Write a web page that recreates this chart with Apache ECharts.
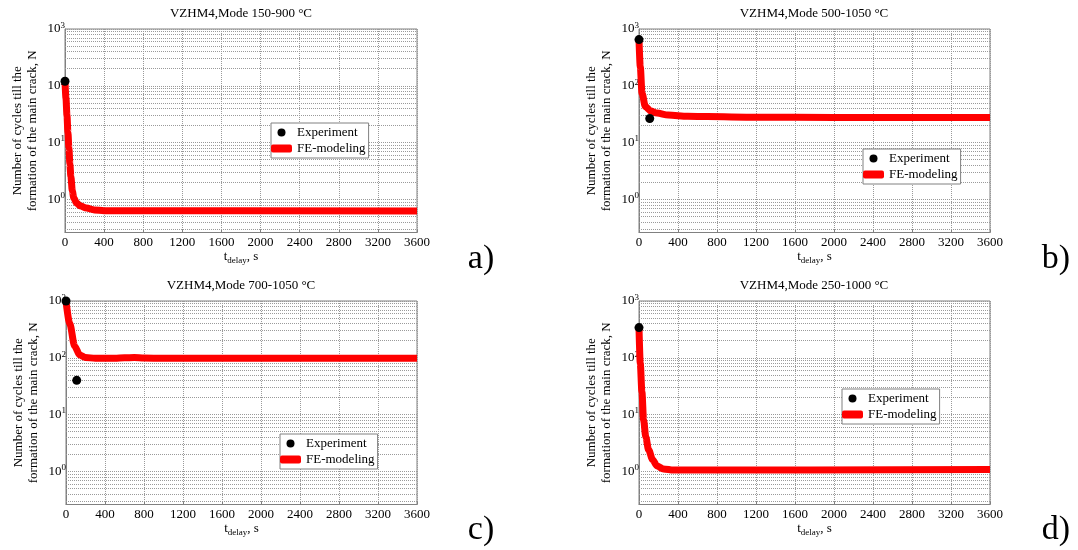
<!DOCTYPE html>
<html><head><meta charset="utf-8">
<script src="https://cdn.jsdelivr.net/npm/echarts@6/dist/echarts.min.js"></script>
<style>html,body{margin:0;padding:0;background:#fff}#c{width:1078px;height:550px}</style>
</head><body><div id="c"></div>
<script>
// ---------------- data ----------------
const titles = ['VZHM4,Mode 150-900 °C', 'VZHM4,Mode 500-1050 °C', 'VZHM4,Mode 700-1050 °C', 'VZHM4,Mode 250-1000 °C'];
const panelLetters = ['a)', 'b)', 'c)', 'd)'];
const seriesNames = ['Experiment', 'FE-modeling'];

const expTimeA = [0];            const expCyclesA = [120];
const expTimeB = [0, 110];       const expCyclesB = [650, 26.5];
const expTimeC = [0, 110];       const expCyclesC = [1000, 40];
const expTimeD = [0];            const expCyclesD = [340];

const feTimeA   = [0, 10, 20, 30, 40, 50, 60, 75, 90, 120, 160, 220, 300, 400, 3600];
const feCyclesA = [120, 60, 30, 15, 8, 4.2, 2.5, 1.4, 1.05, 0.85, 0.76, 0.70, 0.65, 0.63, 0.62];
const feTimeB   = [0, 13, 31, 65, 120, 184, 300, 500, 700, 1200, 2000, 3600];
const feCyclesB = [650, 217, 74, 43, 36, 33, 30.5, 29, 28.6, 28, 27.7, 27.5];
const feTimeC   = [0, 38, 89, 140, 200, 300, 500, 600, 700, 800, 1000, 3600];
const feCyclesC = [1000, 400, 160, 112, 101, 98, 98, 100, 101, 99, 98, 98];
const feTimeD   = [0, 13, 30, 47, 70, 98, 140, 184, 250, 355, 3600];
const feCyclesD = [340, 80, 25, 8, 4, 2.4, 1.6, 1.24, 1.1, 1.05, 1.07];

const xMin = 0, xMax = 3600, xStep = 400;
const yMin = 0.26, yMax = 1000;
const yMinorGrid = [0.3, 0.4, 0.5, 0.6, 0.7, 0.8, 0.9,
  2, 3, 4, 5, 6, 7, 8, 9, 20, 30, 40, 50, 60, 70, 80, 90,
  200, 300, 400, 500, 600, 700, 800, 900];
const yAxisTitle = 'Number of cycles till the\nformation of the main crack, N';

// ---------------- layout ----------------
const FONT = '"Liberation Serif", "DejaVu Serif", serif';
const panels = [
  {exp: [expTimeA, expCyclesA], fe: [feTimeA, feCyclesA], grid: {left: 65, top: 29, width: 352, height: 203.5}, legend: {left: 271, top: 123}, title: [241, 14], letter: [481, 259]},
  {exp: [expTimeB, expCyclesB], fe: [feTimeB, feCyclesB], grid: {left: 639, top: 29, width: 351, height: 203.5}, legend: {left: 863, top: 149}, title: [814, 14], letter: [1056, 259]},
  {exp: [expTimeC, expCyclesC], fe: [feTimeC, feCyclesC], grid: {left: 66, top: 301, width: 351, height: 203.5}, legend: {left: 280, top: 434}, title: [241, 286], letter: [481, 530]},
  {exp: [expTimeD, expCyclesD], fe: [feTimeD, feCyclesD], grid: {left: 639, top: 301, width: 351, height: 203.5}, legend: {left: 842, top: 389}, title: [814, 286], letter: [1056, 530]}
];
const zip = (a, b) => a.map((v, i) => [v, b[i]]);
const gridColor = '#9a9a9a';
const axisColor = '#808080';

const option = {animation: false, backgroundColor: '#fff', grid: [], xAxis: [], yAxis: [], series: [], legend: [], graphic: []};

panels.forEach((p, i) => {
  option.grid.push(Object.assign({show: true, borderColor: axisColor, borderWidth: 1, backgroundColor: 'transparent'}, p.grid));
  option.xAxis.push({
    type: 'value', gridIndex: i, min: xMin, max: xMax, interval: xStep,
    axisLine: {show: true, lineStyle: {color: axisColor}},
    axisTick: {show: true, inside: true, length: 3, lineStyle: {color: axisColor}},
    axisLabel: {margin: 4, color: '#000', fontSize: 13, fontFamily: FONT, formatter: v => String(v)},
    splitLine: {show: true, lineStyle: {type: 'dotted', color: gridColor, width: 1}},
    name: '{t|t}{d|delay}{t|, s}', nameLocation: 'middle', nameGap: 10,
    nameTextStyle: {rich: {
      t: {fontSize: 13, fontFamily: FONT, color: '#000'},
      d: {fontSize: 9, fontFamily: FONT, color: '#000', padding: [7, 0, 0, 0]}
    }}
  });
  option.yAxis.push({
    type: 'log', logBase: 10, gridIndex: i, min: yMin, max: yMax,
    axisLine: {show: true, lineStyle: {color: axisColor}},
    axisTick: {show: false},
    axisLabel: {
      margin: 0, showMinLabel: false,
      formatter: v => '{b|10}{s|' + Math.round(Math.log10(v)) + '}',
      rich: {
        b: {fontSize: 13, fontFamily: FONT, color: '#000'},
        s: {fontSize: 9, fontFamily: FONT, color: '#000', padding: [0, 0, 7, 0]}
      }
    },
    splitLine: {show: true, lineStyle: {type: 'dotted', color: gridColor, width: 1}},
    name: yAxisTitle, nameLocation: 'middle', nameGap: 25,
    nameTextStyle: {fontSize: 13, lineHeight: 15, fontFamily: FONT, color: '#000'}
  });
  option.series.push({
    name: '__minor', type: 'line', xAxisIndex: i, yAxisIndex: i, data: [], silent: true, z: 1,
    markLine: {
      silent: true, z: 1, symbol: ['none', 'none'], label: {show: false},
      lineStyle: {type: 'dotted', color: gridColor, width: 1},
      emphasis: {disabled: true},
      data: yMinorGrid.map(v => ({yAxis: v}))
    }
  });
  option.series.push({
    name: seriesNames[1], type: 'line', xAxisIndex: i, yAxisIndex: i,
    data: zip(p.fe[0], p.fe[1]), symbol: 'none', smooth: 0.3, smoothMonotone: 'x', clip: false,
    lineStyle: {color: '#ff0000', width: 7, cap: 'butt', join: 'round'}, itemStyle: {color: '#ff0000'}, z: 3
  });
  option.series.push({
    name: seriesNames[0], type: 'scatter', xAxisIndex: i, yAxisIndex: i,
    data: zip(p.exp[0], p.exp[1]), symbol: 'circle', symbolSize: 9, clip: false,
    itemStyle: {color: '#000', opacity: 1}, z: 4
  });
  option.legend.push({
    show: true, orient: 'vertical', left: p.legend.left, top: p.legend.top,
    data: [
      {name: seriesNames[0], icon: 'circle', itemStyle: {color: '#000', opacity: 1}},
      {name: seriesNames[1], icon: 'roundRect', itemStyle: {color: '#ff0000', opacity: 1}}
    ],
    itemWidth: 21, itemHeight: 8, itemGap: 1, padding: [2, 3, 2, 0],
    borderColor: axisColor, borderWidth: 1, backgroundColor: '#fff', selectedMode: false,
    textStyle: {fontSize: 13, fontFamily: FONT, color: '#000', lineHeight: 15}
  });
  option.graphic.push({
    type: 'text', x: p.title[0], y: p.title[1], silent: true,
    style: {text: titles[i], fontSize: 13, fontFamily: FONT, fill: '#000', textAlign: 'center', textVerticalAlign: 'middle'}
  });
  option.graphic.push({
    type: 'text', x: p.letter[0], y: p.letter[1], silent: true,
    style: {text: panelLetters[i], fontSize: 34, fontFamily: FONT, fill: '#000', textAlign: 'center', textVerticalAlign: 'middle'}
  });
});

const chart = echarts.init(document.getElementById('c'), null, {renderer: 'canvas'});
chart.setOption(option);
</script>
</body></html>
